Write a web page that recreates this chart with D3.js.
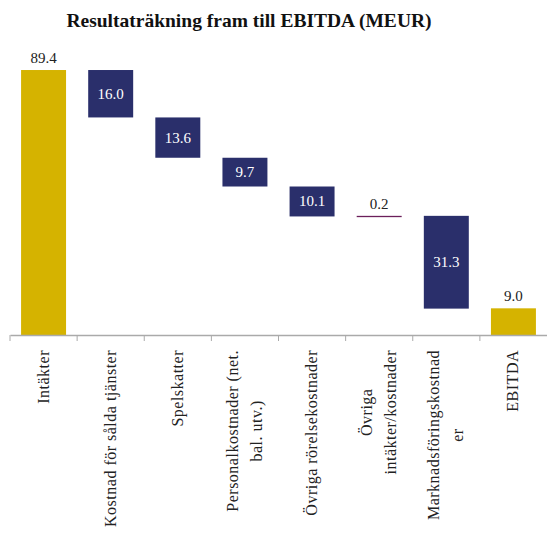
<!DOCTYPE html>
<html>
<head>
<meta charset="utf-8">
<script src="https://cdn.jsdelivr.net/npm/d3@7"></script>
</head>
<body style="margin:0; background:#fff">
<svg id="chart"></svg>
<script>
const categories = ["Intäkter", "Kostnad för sålda tjänster", "Spelskatter", "Personalkostnader (net. bal. utv.)",
  "Övriga rörelsekostnader", "Övriga intäkter/kostnader", "Marknadsföringskostnader", "EBITDA"];
const tickLabels = [["Intäkter"], ["Kostnad för sålda tjänster"], ["Spelskatter"], ["Personalkostnader (net.", "bal. utv.)"],
  ["Övriga rörelsekostnader"], ["Övriga", "intäkter/kostnader"], ["Marknadsföringskostnad", "er"], ["EBITDA"]];
const values = [89.4, -16.0, -13.6, -9.7, -10.1, 0.2, -31.3, 9.0];
const isTotal = [true, false, false, false, false, false, false, true];

const FONT = 'Liberation Serif';
const width = 547, height = 533;
const svg = d3.select('#chart').attr('width', width).attr('height', height);

// build waterfall steps
let running = 0;
const steps = categories.map((c, i) => {
  let y0, y1;
  if (isTotal[i]) { y0 = 0; y1 = values[i]; running = values[i]; }
  else { y0 = running; y1 = running + values[i]; running = y1; }
  return { cat: c, lines: tickLabels[i], v: values[i], lo: Math.min(y0, y1), hi: Math.max(y0, y1), total: isTotal[i] };
});

const x = d3.scaleBand().domain(categories).range([10, 547]).paddingInner(0.33).paddingOuter(0.165);
const y = d3.scaleLinear().domain([0, 100]).range([335, 38.6]);

svg.append('text')
  .attr('x', 249).attr('y', 27)
  .attr('text-anchor', 'middle')
  .attr('font-family', FONT)
  .attr('font-size', 19.5).attr('font-weight', 'bold').attr('fill', '#111')
  .text('Resultaträkning fram till EBITDA (MEUR)');

// bars
svg.selectAll('rect.bar')
  .data(steps.filter(d => d.v < 0 || d.total))
  .enter().append('rect')
  .attr('class', 'bar')
  .attr('x', d => x(d.cat))
  .attr('width', x.bandwidth())
  .attr('y', d => y(d.hi))
  .attr('height', d => y(d.lo) - y(d.hi))
  .attr('fill', d => d.total ? '#d5b300' : '#2a2f6b');

// small increase shown as a thin bar
steps.filter(d => d.v > 0 && !d.total).forEach(d => {
  svg.append('rect')
    .attr('x', x(d.cat)).attr('width', x.bandwidth())
    .attr('y', y(d.hi)).attr('height', Math.max(1.3, y(d.lo) - y(d.hi)))
    .attr('fill', '#6b1f5a');
});

// value labels
steps.forEach(d => {
  const cx = x(d.cat) + x.bandwidth() / 2;
  const inside = !d.total && d.v < 0;
  svg.append('text')
    .attr('x', cx)
    .attr('y', inside ? (y(d.hi) + y(d.lo)) / 2 + 5 : y(d.hi) - 7)
    .attr('text-anchor', 'middle')
    .attr('font-family', FONT)
    .attr('font-size', 15)
    .attr('fill', inside ? '#fff' : '#222')
    .text(Math.abs(d.v).toFixed(1));
});

// axis
const axis = svg.append('g')
  .attr('transform', 'translate(0,335)')
  .call(d3.axisBottom(x).tickSize(0).tickFormat(''));
axis.select('.domain').attr('stroke', '#aaa').attr('stroke-width', 1.5);
const edges = categories.map(c => x(c) - x.step() * x.paddingInner() / 2);
axis.selectAll('line.edge').data(edges).enter().append('line')
  .attr('class', 'edge')
  .attr('x1', d => d).attr('x2', d => d)
  .attr('y1', 0).attr('y2', 6)
  .attr('stroke', '#aaa');

// rotated tick labels, lines centred on each other
steps.forEach(d => {
  const cx = x(d.cat) + x.bandwidth() / 2;
  const lh = 24;
  const n = d.lines.length;
  const texts = d.lines.map(ln => svg.append('text')
    .attr('font-family', FONT)
    .attr('font-size', 16).attr('fill', '#222')
    .attr('letter-spacing', 0.5)
    .attr('text-anchor', 'middle')
    .text(ln));
  const maxLen = d3.max(texts, t => t.node().getComputedTextLength());
  const cy = 350 + maxLen / 2;
  texts.forEach((t, j) => {
    const off = (j - (n - 1) / 2) * lh;
    t.attr('transform', `translate(${cx + off + 5},${cy}) rotate(-90)`);
  });
});
</script>
</body>
</html>
